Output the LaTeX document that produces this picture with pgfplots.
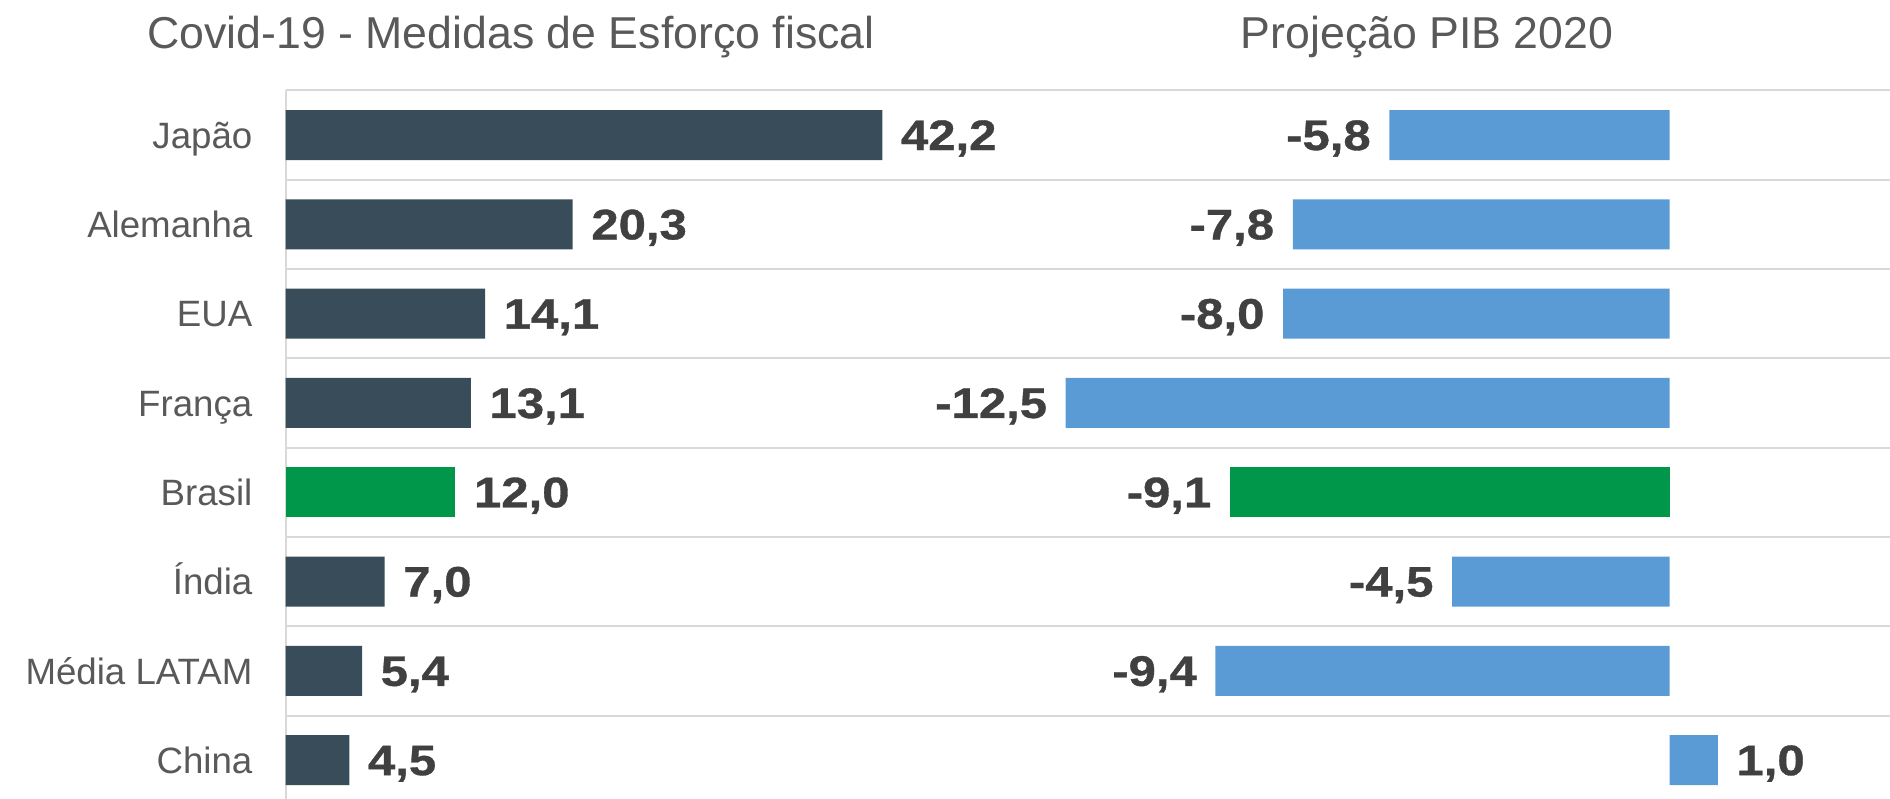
\documentclass[border=0pt]{standalone}
\usepackage{pgfplots}
\pgfplotsset{compat=1.18}
\usepackage{fontspec}
\setmainfont{Liberation Sans}
\newfontfamily\valfont[FakeStretch=1.15, FakeBold=0.8]{Liberation Sans}

\definecolor{darkbar}{HTML}{384D59}
\definecolor{bluebar}{HTML}{5B9BD5}
\definecolor{greenbar}{HTML}{00974B}
\definecolor{gridgray}{HTML}{D9D9D9}
\definecolor{labgray}{HTML}{595959}
\definecolor{valgray}{HTML}{404040}

% shared look of both panels
\pgfplotsset{
  panel/.style={
    xbar, bar shift=0pt, bar width=15pt,
    scale only axis, height=214.32pt,
    y dir=reverse, ymin=0.5, ymax=8.5,
    ytick={1,...,8}, minor ytick={0.5,1.5,...,8.5},
    major tick length=0pt, minor tick length=0pt,
    yminorgrids=true, minor grid style={gridgray, line width=0.6pt},
    xtick=\empty,
    clip=false,
    point meta=x,
    nodes near coords,
    nodes near coords align={horizontal},
    every node near coord/.append style={font=\valfont\bfseries\fontsize{12.8}{15}\selectfont,
      text=valgray, inner xsep=5.4pt, inner ysep=0pt, text height=9.0pt, text depth=0pt},
    /pgf/number format/.cd, fixed, fixed zerofill, precision=1, use comma, assume math mode=true,
  },
}

\begin{document}
\begin{tikzpicture}

% left panel: fiscal effort
\begin{axis}[panel,
  at={(85.71pt,-27.12pt)}, anchor=north west,
  width=211.3pt, xmin=0, xmax=49.82,
  axis x line=none, axis y line*=left,
  y axis line style={gridgray, line width=0.6pt},
  yticklabels={Japão,Alemanha,EUA,França,Brasil,Índia,Média LATAM,China},
  yticklabel style={font=\fontsize{11}{13}\selectfont, text=labgray, anchor=east,
    inner sep=0pt, xshift=-9.8pt, text height=7.9pt, text depth=0pt},
]
\addplot[fill=darkbar, draw=none] coordinates {(42.2,1) (20.3,2) (14.1,3) (13.1,4) (7.0,6) (5.4,7) (4.5,8)};
\addplot[fill=greenbar, draw=none] coordinates {(12.0,5)};
\end{axis}

% right panel: GDP projection
\begin{axis}[panel,
  at={(285pt,-27.12pt)}, anchor=north west,
  width=282pt, xmin=-14.896, xmax=4.565,
  axis line style={draw=none},
  yticklabels={,,,,,,,},
]
\addplot[fill=bluebar, draw=none] coordinates {(-5.8,1) (-7.8,2) (-8.0,3) (-12.5,4) (-4.5,6) (-9.4,7) (1.0,8)};
\addplot[fill=greenbar, draw=none] coordinates {(-9.1,5)};
\end{axis}

\node[anchor=base, text=labgray, font=\fontsize{13.4}{16}\selectfont] at (153.3pt,-14.49pt) {Covid-19 - Medidas de Esforço fiscal};
\node[anchor=base, text=labgray, font=\fontsize{13.4}{16}\selectfont] at (428.1pt,-14.49pt) {Projeção PIB 2020};

\pgfresetboundingbox
\useasboundingbox (0,0) rectangle (567pt,-239.7pt);
\end{tikzpicture}
\end{document}
